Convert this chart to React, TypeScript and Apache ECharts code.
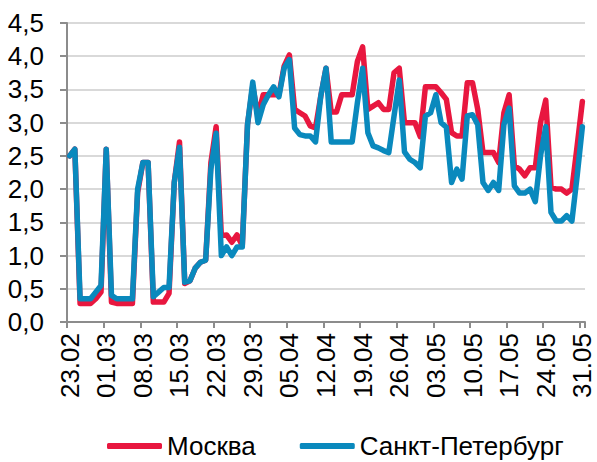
import React, { useEffect, useRef } from "react";
import * as echarts from "echarts";

// Calendar: 23.02.2020 – 31.05.2020, daily
const monthStarts = [
  { month: "02", from: 23, to: 29 },
  { month: "03", from: 1, to: 31 },
  { month: "04", from: 1, to: 30 },
  { month: "05", from: 1, to: 31 },
];
const categories: string[] = [];
monthStarts.forEach((m) => {
  for (let d = m.from; d <= m.to; d++) {
    categories.push(String(d).padStart(2, "0") + "." + m.month);
  }
});

const moscow = [
  2.5, 2.6, 0.28, 0.28, 0.28, 0.35, 0.45,
  2.6, 0.3, 0.28, 0.28, 0.28, 0.28, 1.95,
  2.4, 2.4, 0.3, 0.3, 0.3, 0.43, 2.1,
  2.71, 0.58, 0.62, 0.81, 0.9, 0.93, 2.4,
  2.94, 1.3, 1.31, 1.2, 1.31, 1.15, 2.97,
  3.55, 3.1, 3.42, 3.42, 3.42, 3.42, 3.85,
  4.02, 3.2, 3.15, 3.1, 2.95, 2.92, 3.4,
  3.82, 3.16, 3.16, 3.42, 3.42, 3.42, 3.92,
  4.14, 3.2, 3.25, 3.3, 3.2, 3.2, 3.75,
  3.82, 3.0, 3.0, 3.0, 2.79, 3.54, 3.54,
  3.54, 3.45, 3.35, 2.85, 2.8, 2.8, 3.6,
  3.6, 3.2, 2.55, 2.55, 2.55, 2.4, 3.15,
  3.42, 2.35, 2.3, 2.2, 2.32, 2.32, 3.0,
  3.34, 2.03, 2.0, 2.0, 1.94, 2.0, 2.65,
  3.32,
];

const spb = [
  2.5, 2.6, 0.35, 0.35, 0.35, 0.45, 0.55,
  2.6, 0.4, 0.35, 0.35, 0.35, 0.35, 2.0,
  2.4, 2.4, 0.38, 0.45, 0.52, 0.52, 2.1,
  2.63, 0.6, 0.62, 0.81, 0.9, 0.93, 2.3,
  2.84, 1.0, 1.13, 1.0, 1.13, 1.13, 2.97,
  3.61, 3.0, 3.27, 3.42, 3.54, 3.39, 3.82,
  3.95, 2.92, 2.82, 2.8, 2.8, 2.71, 3.4,
  3.82, 2.71, 2.71, 2.71, 2.71, 2.71, 3.3,
  3.82, 2.85, 2.65, 2.62, 2.58, 2.55, 3.1,
  3.64, 2.56, 2.45, 2.4, 2.32, 3.1, 3.15,
  3.42, 3.0, 2.93, 2.1, 2.3, 2.15, 3.1,
  3.12, 2.97, 2.1, 1.98, 2.1, 1.98, 2.97,
  3.22, 2.05, 1.94, 1.94, 2.0, 1.81, 2.5,
  2.94, 1.65, 1.52, 1.52, 1.6, 1.52, 2.2,
  2.94,
];

const seriesNames = ["Москва", "Санкт-Петербург"];
const seriesColors = ["#e8173f", "#0a89bd"];

const FONT = "'Liberation Sans', Arial, sans-serif";

export default function App() {
  const ref = useRef<HTMLDivElement>(null);
  useEffect(() => {
    if (!ref.current) return;
    const chart = echarts.init(ref.current, undefined, { renderer: "svg" });
    chart.setOption({
      animation: false,
      backgroundColor: "#ffffff",
      grid: { left: 67, right: 12, top: 23, bottom: 140, containLabel: false },
      legend: {
        left: 102,
        top: 428,
        itemWidth: 55,
        itemHeight: 6,
        itemGap: 44,
        icon: "roundRect",
        textStyle: { fontSize: 26, color: "#000", fontFamily: FONT },
        data: seriesNames,
      },
      xAxis: {
        type: "category",
        data: categories,
        boundaryGap: true,
        axisLine: { lineStyle: { color: "#8c8c8c", width: 2 } },
        axisTick: {
          show: true,
          interval: 6,
          length: 6,
          lineStyle: { color: "#8c8c8c", width: 2 },
        },
        axisLabel: {
          interval: 6,
          rotate: 90,
          fontSize: 26,
          lineHeight: 20,
          color: "#000",
          fontFamily: FONT,
          margin: 11,
        },
        splitLine: { show: false },
      },
      yAxis: {
        type: "value",
        min: 0,
        max: 4.5,
        interval: 0.5,
        axisLine: { show: true, lineStyle: { color: "#8c8c8c", width: 2 } },
        axisTick: { show: true, length: 7, lineStyle: { color: "#8c8c8c", width: 2 } },
        axisLabel: {
          fontSize: 26,
          color: "#000",
          fontFamily: FONT,
          margin: 23,
          formatter: (v: number) => v.toFixed(1).replace(".", ","),
        },
        splitLine: { lineStyle: { color: "#d9d9d9", width: 2 } },
      },
      series: [
        {
          name: seriesNames[0],
          type: "line",
          data: moscow,
          showSymbol: false,
          symbol: "none",
          color: seriesColors[0],
          lineStyle: { width: 5.5, color: seriesColors[0], join: "round", cap: "round" },
        },
        {
          name: seriesNames[1],
          type: "line",
          data: spb,
          showSymbol: false,
          symbol: "none",
          color: seriesColors[1],
          lineStyle: { width: 5.5, color: seriesColors[1], join: "round", cap: "round" },
        },
      ],
    });
    return () => chart.dispose();
  }, []);
  return <div ref={ref} style={{ width: 597, height: 462, position: "absolute", left: 0, top: 0 }} />;
}
